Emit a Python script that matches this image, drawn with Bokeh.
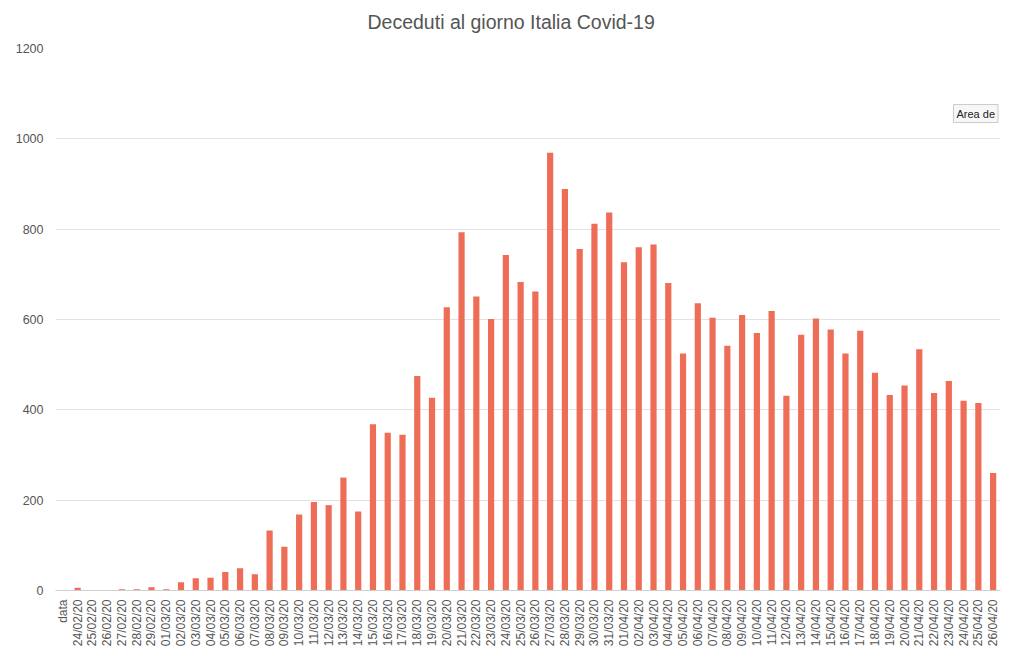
import math
from bokeh.plotting import figure
from bokeh.models import ColumnDataSource, FactorRange, Range1d, Label, Title
from bokeh.embed import file_html
from bokeh.resources import INLINE

header_label = "data"
dates = [
    "24/02/20", "25/02/20", "26/02/20", "27/02/20", "28/02/20", "29/02/20",
    "01/03/20", "02/03/20", "03/03/20", "04/03/20", "05/03/20", "06/03/20", "07/03/20",
    "08/03/20", "09/03/20", "10/03/20", "11/03/20", "12/03/20", "13/03/20", "14/03/20",
    "15/03/20", "16/03/20", "17/03/20", "18/03/20", "19/03/20", "20/03/20", "21/03/20",
    "22/03/20", "23/03/20", "24/03/20", "25/03/20", "26/03/20", "27/03/20", "28/03/20",
    "29/03/20", "30/03/20", "31/03/20", "01/04/20", "02/04/20", "03/04/20", "04/04/20",
    "05/04/20", "06/04/20", "07/04/20", "08/04/20", "09/04/20", "10/04/20", "11/04/20",
    "12/04/20", "13/04/20", "14/04/20", "15/04/20", "16/04/20", "17/04/20", "18/04/20",
    "19/04/20", "20/04/20", "21/04/20", "22/04/20", "23/04/20", "24/04/20", "25/04/20",
    "26/04/20",
]
deaths = [
    6, 0, 0, 3, 3, 7,
    3, 18, 27, 28, 41, 49, 36,
    133, 97, 168, 196, 189, 250, 175,
    368, 349, 345, 475, 427, 627, 793,
    651, 601, 743, 683, 662, 969, 889,
    756, 812, 837, 727, 760, 766, 681,
    525, 636, 604, 542, 610, 570, 619,
    431, 566, 602, 578, 525, 575, 482,
    433, 454, 534, 437, 464, 420, 415,
    260,
]
title_text = "Deceduti al giorno Italia Covid-19"
y_ticks = [0, 200, 400, 600, 800, 1000, 1200]

FONT = "Liberation Sans"
TXT = "#555555"

source = ColumnDataSource(data=dict(x=dates, top=deaths))

p = figure(
    width=1024, height=657,
    x_range=FactorRange(*([header_label] + dates), range_padding=0),
    y_range=Range1d(0, 1200),
    output_backend="svg", toolbar_location=None,
    min_border_left=55, min_border_right=24, min_border_top=48, min_border_bottom=67,
)
p.title.text = title_text
p.title.align = "left"
p.title.offset = 312
p.title.vertical_align = "bottom"
p.title.text_font = FONT
p.title.text_font_size = "19.5px"
p.title.text_font_style = "normal"
p.title.text_color = TXT
p.title.standoff = 0

# empty spacer between the frame and the title
p.add_layout(Title(text=" ", text_font_size="12px", standoff=0), "above")

p.vbar(x="x", top="top", width=0.42, source=source,
       fill_color="#EE6D57", line_color=None)

p.outline_line_color = None
p.background_fill_color = "white"
p.border_fill_color = "white"

p.xgrid.grid_line_color = None
p.ygrid.grid_line_color = "#e2e2e2"
p.ygrid.grid_line_width = 1

p.yaxis.ticker = y_ticks
p.yaxis.axis_line_color = None
p.yaxis.major_tick_line_color = None
p.yaxis.minor_tick_line_color = None
p.yaxis.major_tick_out = 0
p.yaxis.major_label_standoff = 12
p.yaxis.major_label_text_font = FONT
p.yaxis.major_label_text_font_size = "12.5px"
p.yaxis.major_label_text_color = TXT

p.xaxis.axis_line_color = "#cfcfcf"
p.xaxis.major_tick_line_color = None
p.xaxis.minor_tick_line_color = None
p.xaxis.major_tick_out = 0
p.xaxis.major_label_orientation = math.pi / 2
p.xaxis.major_label_standoff = 9
p.xaxis.major_label_text_font = FONT
p.xaxis.major_label_text_font_size = "12px"
p.xaxis.major_label_text_color = TXT

tip = Label(x=898, y=468, x_units="screen", y_units="screen", text="Area de",
            text_font=FONT, text_font_size="11px", text_color="#222222",
            background_fill_color="#f7f7f7", border_line_color="#cccccc",
            padding=3)
p.add_layout(tip)

open("out.html", "w").write(file_html(p, INLINE))
